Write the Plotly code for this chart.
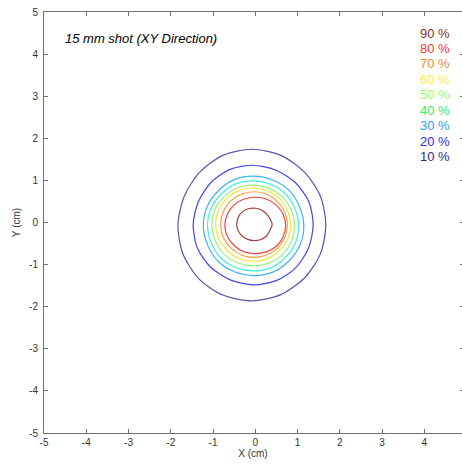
import numpy as np
import plotly.graph_objects as go

# Contour levels (percent of peak dose)
levels = [10, 20, 30, 40, 50, 60, 70, 80, 90]

# Centre of each iso-level curve (cm)
center_x = [-0.08, -0.05, -0.04, -0.05, -0.05, -0.05, -0.03, 0.00, -0.03]
center_y = [-0.06, -0.06, -0.08, -0.08, -0.07, -0.05, -0.05, -0.07, -0.05]

# Radius of each iso-level curve (cm) at 16 directions, 0 deg = +X, counter-clockwise
angles_deg = [0, 22.5, 45, 67.5, 90, 112.5, 135, 157.5,
              180, 202.5, 225, 247.5, 270, 292.5, 315, 337.5]
radii = {
    10: [1.75, 1.76, 1.77, 1.79, 1.80, 1.79, 1.76, 1.74, 1.75, 1.77, 1.79, 1.80, 1.80, 1.79, 1.77, 1.76],
    20: [1.42, 1.43, 1.42, 1.41, 1.42, 1.43, 1.42, 1.41, 1.42, 1.43, 1.42, 1.41, 1.42, 1.43, 1.43, 1.42],
    30: [1.19, 1.18, 1.19, 1.18, 1.18, 1.19, 1.18, 1.19, 1.19, 1.18, 1.19, 1.18, 1.18, 1.19, 1.18, 1.19],
    40: [1.08, 1.07, 1.08, 1.07, 1.07, 1.08, 1.07, 1.08, 1.08, 1.07, 1.08, 1.07, 1.07, 1.08, 1.07, 1.08],
    50: [0.98, 0.97, 0.97, 0.96, 0.96, 0.97, 0.97, 0.98, 0.98, 0.97, 0.97, 0.96, 0.96, 0.97, 0.98, 0.98],
    60: [0.89, 0.88, 0.88, 0.87, 0.87, 0.88, 0.88, 0.89, 0.89, 0.88, 0.87, 0.87, 0.87, 0.88, 0.88, 0.89],
    70: [0.79, 0.79, 0.78, 0.78, 0.78, 0.78, 0.79, 0.79, 0.79, 0.79, 0.78, 0.78, 0.78, 0.78, 0.79, 0.79],
    80: [0.72, 0.71, 0.69, 0.68, 0.67, 0.68, 0.70, 0.71, 0.72, 0.71, 0.69, 0.68, 0.67, 0.68, 0.70, 0.71],
    90: [0.43, 0.40, 0.39, 0.39, 0.39, 0.40, 0.41, 0.41, 0.41, 0.40, 0.39, 0.38, 0.38, 0.39, 0.40, 0.40],
}

label_texts = ["90 %", "80 %", "70 %", "60 %", "50 %", "40 %", "30 %", "20 %", "10 %"]
title_text = "15 mm shot (XY Direction)"
tick_vals = [-5, -4, -3, -2, -1, 0, 1, 2, 3, 4, 5]
tick_text = ["-5", "-4", "-3", "-2", "-1", "0", "1", "2", "3", "4", "5"]

line_colors = {10: "#5656ac", 20: "#4545ee", 30: "#3fb0ff", 40: "#3ff0e0", 50: "#9cf27e",
               60: "#f7e43c", 70: "#ff9a40", 80: "#f04444", 90: "#9e4646"}
text_colors = {"90 %": "#8e2c2c", "80 %": "#ff3434", "70 %": "#ff8436", "60 %": "#ffee30",
               "50 %": "#99ff66", "40 %": "#33ee66", "30 %": "#3399ff", "20 %": "#2a2aee",
               "10 %": "#2a2a88"}

fig = go.Figure()
theta = np.deg2rad(angles_deg + [360])
for i, lv in enumerate(levels):
    r = np.array(radii[lv] + [radii[lv][0]])
    fig.add_trace(go.Scatter(
        x=center_x[i] + r * np.cos(theta),
        y=center_y[i] + r * np.sin(theta),
        mode="lines", line=dict(color=line_colors[lv], width=1.2, shape="spline", smoothing=0.8),
        showlegend=False, hoverinfo="skip"))

# invisible trace that carries the right-hand tick axis
fig.add_trace(go.Scatter(x=[0], y=[0], yaxis="y2", mode="markers",
                         marker=dict(opacity=0), showlegend=False, hoverinfo="skip"))

annotations = [dict(x=-4.55, y=4.38, xref="x", yref="y", text=f"<i>{title_text}</i>",
                    showarrow=False, xanchor="left", yanchor="middle",
                    font=dict(family="Liberation Sans, Arial", size=13, color="#000000"))]
for k, t in enumerate(label_texts):
    annotations.append(dict(x=3.86, y=4.50 - 0.367 * k, xref="x", yref="y", text=t,
                            showarrow=False, xanchor="left", yanchor="middle",
                            font=dict(family="Liberation Sans, Arial", size=13, color=text_colors[t])))

axis_font = dict(family="Liberation Sans, Arial", size=10, color="#333333")
fig.update_layout(
    width=462, height=465,
    margin=dict(l=44, r=0, t=12, b=32, pad=0),
    paper_bgcolor="white", plot_bgcolor="white",
    font=axis_font,
    annotations=annotations,
    xaxis=dict(range=[-5, 4.893], tickvals=tick_vals, ticktext=tick_text, ticks="inside", ticklen=4,
               tickcolor="#707070", showline=True, linecolor="#707070", linewidth=1,
               mirror="ticks", showgrid=False, zeroline=False, tickfont=axis_font,
               title=dict(text="X (cm)", font=dict(family="Liberation Sans, Arial", size=10, color="#333333"),
                          standoff=2)),
    yaxis=dict(range=[-5, 5], tickvals=tick_vals, ticktext=tick_text, ticks="inside", ticklen=4,
               tickcolor="#707070", showline=True, linecolor="#707070", linewidth=1,
               showgrid=False, zeroline=False, tickfont=axis_font, ticklabelstandoff=3,
               title=dict(text="Y (cm)", font=dict(family="Liberation Sans, Arial", size=10, color="#333333"),
                          standoff=6)),
    yaxis2=dict(range=[-5, 5], tickvals=tick_vals, overlaying="y", side="right",
                ticks="inside", ticklen=2, tickcolor="#707070", showticklabels=False,
                showline=False, showgrid=False, zeroline=False),
)

fig.write_html("out.html")
